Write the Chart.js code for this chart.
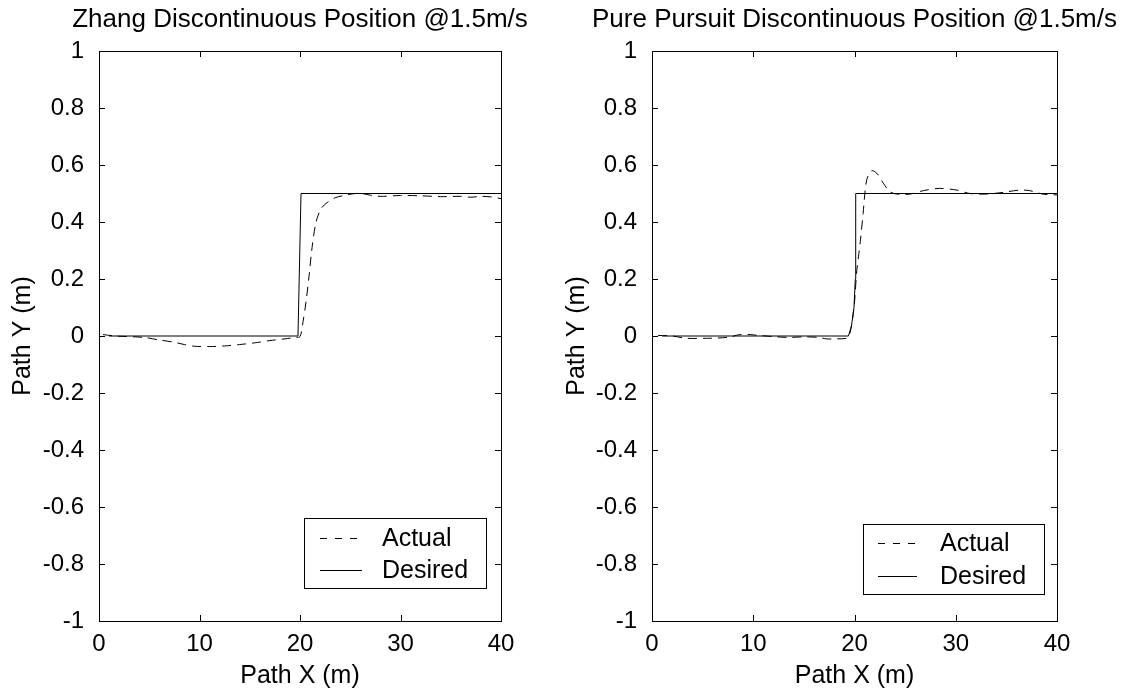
<!DOCTYPE html>
<html>
<head>
<meta charset="utf-8">
<script src="https://cdn.jsdelivr.net/npm/chart.js@4.4.1/dist/chart.umd.min.js"></script>
<style>
    body { margin: 0; background: #fff; }
    #wrap { position: relative; width: 1123px; height: 691px; }
    canvas { position: absolute; top: 0; }
</style>
</head>
<body>
<div id="wrap">
    <canvas id="zhang_chart" width="561" height="691" style="left:0px"></canvas>
    <canvas id="pursuit_chart" width="562" height="691" style="left:561px"></canvas>
</div>
<script>
// Axes ticks (shared by both plots)
const xTicks = [0, 10, 20, 30, 40];
const yTicks = [-1, -0.8, -0.6, -0.4, -0.2, 0, 0.2, 0.4, 0.6, 0.8, 1];
const seriesNames = ['Actual', 'Desired'];

// Zhang controller
const zhangActualX = [0.4, 1.6, 4.5, 6, 7.5, 8.5, 9.5, 11, 12.5, 14, 15.5, 17, 18.5, 19.5, 20, 20.3, 20.6, 20.9, 21.2, 21.6, 22.1, 22.7, 23.5, 24.5, 25.5, 26.3, 27, 28, 30, 32, 34, 36, 37, 38, 39, 40];
const zhangActualY = [0.005, 0, -0.005, -0.014, -0.022, -0.03, -0.036, -0.037, -0.035, -0.03, -0.024, -0.016, -0.01, -0.005, -0.002, 0.05, 0.12, 0.21, 0.31, 0.4, 0.447, 0.468, 0.485, 0.494, 0.5, 0.499, 0.494, 0.49, 0.493, 0.492, 0.489, 0.49, 0.487, 0.49, 0.488, 0.482];
const zhangDesiredX = [1, 19.8, 20.1, 40];
const zhangDesiredY = [0, 0, 0.5, 0.5];

// Pure pursuit controller
const pursuitActualX = [0.6, 2, 3.4, 5.4, 6.5, 7.6, 8.7, 9.7, 10.5, 12, 13.5, 15, 16.5, 17.2, 18.3, 19.2, 19.45, 19.7, 19.95, 20.05, 20.2, 20.4, 20.6, 20.85, 21.2, 21.7, 22.2, 22.85, 23.5, 24.2, 25.5, 26.8, 28.4, 30.1, 31.4, 33, 34.7, 36.3, 37.3, 38.6, 40];
const pursuitActualY = [0.002, 0, -0.008, -0.008, -0.007, -0.004, 0.005, 0.005, 0.002, -0.002, -0.005, -0.003, -0.005, -0.01, -0.01, -0.008, 0, 0.035, 0.1, 0.14, 0.22, 0.28, 0.34, 0.43, 0.547, 0.58, 0.571, 0.536, 0.506, 0.498, 0.498, 0.51, 0.518, 0.512, 0.5, 0.498, 0.504, 0.512, 0.51, 0.498, 0.495];
const pursuitDesiredX = [1, 19.4, 19.7, 19.95, 20.08, 20.12, 40];
const pursuitDesiredY = [0, 0, 0.035, 0.1, 0.2, 0.5, 0.5];

const FONT = "'Liberation Sans', Arial, sans-serif";
Chart.defaults.font.family = FONT;
Chart.defaults.font.size = 24;
Chart.defaults.color = '#000';

// MATLAB-like frame: box, inward ticks on all sides, title and legend
const matlabAxes = {
    id: 'matlabAxes',
    afterDraw(chart, args, opts) {
        const ctx = chart.ctx;
        const a = chart.chartArea;
        const sx = chart.scales.x, sy = chart.scales.y;
        ctx.save();
        ctx.strokeStyle = '#000';
        ctx.lineWidth = 1;
        ctx.setLineDash([]);
        ctx.strokeRect(a.left + 0.5, a.top + 0.5, a.right - a.left, a.bottom - a.top);
        ctx.beginPath();
        sx.ticks.forEach(t => {
            const px = Math.round(sx.getPixelForValue(t.value)) + 0.5;
            ctx.moveTo(px, a.bottom); ctx.lineTo(px, a.bottom - opts.tick);
            ctx.moveTo(px, a.top); ctx.lineTo(px, a.top + opts.tick);
        });
        sy.ticks.forEach(t => {
            const py = Math.round(sy.getPixelForValue(t.value)) + 0.5;
            ctx.moveTo(a.left, py); ctx.lineTo(a.left + opts.tick, py);
            ctx.moveTo(a.right, py); ctx.lineTo(a.right - opts.tick, py);
        });
        ctx.stroke();

        // title
        ctx.fillStyle = '#000';
        ctx.font = '26px ' + FONT;
        ctx.textAlign = 'center';
        ctx.textBaseline = 'middle';
        ctx.fillText(opts.title, (a.left + a.right) / 2, opts.titleY);

        // legend
        const lg = opts.legend;
        const bx = a.right - lg.right - lg.width;
        const by = a.bottom - lg.bottom - lg.height;
        ctx.fillStyle = '#fff';
        ctx.fillRect(bx, by, lg.width, lg.height);
        ctx.strokeRect(Math.round(bx) + 0.5, Math.round(by) + 0.5, lg.width, lg.height);
        ctx.font = '25px ' + FONT;
        ctx.textAlign = 'left';
        chart.data.datasets.forEach((ds, i) => {
            const y = Math.round(by + lg.rows[i]) + 0.5;
            ctx.beginPath();
            ctx.setLineDash(i === 0 ? [7, 8] : []);
            ctx.moveTo(bx + lg.lineStart, y);
            ctx.lineTo(bx + lg.lineEnd, y);
            ctx.stroke();
            ctx.fillStyle = '#000';
            ctx.fillText(ds.label, bx + lg.textX, y + 1);
        });
        ctx.restore();
    }
};

function createChart(namechart, actualX, actualY, desiredX, desiredY, frame) {
    new Chart(namechart, {
        type: 'line',
        data: {
            datasets: [
                {
                    label: seriesNames[0],
                    data: actualX.map((x, i) => ({ x: x, y: actualY[i] })),
                    borderColor: '#000',
                    borderWidth: 1,
                    borderDash: [9, 6],
                    pointRadius: 0,
                    tension: 0.3
                },
                {
                    label: seriesNames[1],
                    data: desiredX.map((x, i) => ({ x: x, y: desiredY[i] })),
                    borderColor: '#000',
                    borderWidth: 1,
                    pointRadius: 0,
                    tension: 0
                }
            ]
        },
        options: {
            responsive: false,
            animation: false,
            devicePixelRatio: 1,
            layout: { padding: { left: 0, right: frame.padRight, top: 51, bottom: 0 } },
            plugins: {
                legend: { display: false },
                tooltip: { enabled: false },
                matlabAxes: frame
            },
            scales: {
                x: {
                    type: 'linear',
                    min: 0,
                    max: 40,
                    afterBuildTicks: s => { s.ticks = xTicks.map(v => ({ value: v })); },
                    afterFit: s => { s.height = 70; },
                    ticks: { padding: 1, maxRotation: 0, autoSkip: false, callback: v => String(v) },
                    grid: { display: false },
                    border: { display: false },
                    title: { display: true, text: 'Path X (m)', font: { size: 25 }, padding: { top: 0, bottom: 0 } }
                },
                y: {
                    type: 'linear',
                    min: -1,
                    max: 1,
                    afterBuildTicks: s => { s.ticks = yTicks.map(v => ({ value: v })); },
                    afterFit: s => { s.width = frame.axisLeft; },
                    ticks: { padding: 7, autoSkip: false, callback: v => String(v) },
                    grid: { display: false },
                    border: { display: false },
                    title: { display: true, text: 'Path Y (m)', font: { size: 25 }, padding: { top: frame.yTitlePad, bottom: 0 } }
                }
            }
        },
        plugins: [matlabAxes]
    });
}

createChart(document.getElementById('zhang_chart'),
    zhangActualX, zhangActualY, zhangDesiredX, zhangDesiredY, {
        title: 'Zhang Discontinuous Position @1.5m/s',
        titleY: 20, tick: 6, axisLeft: 99, padRight: 60, yTitlePad: 8,
        legend: { width: 182, height: 70, right: 15, bottom: 33, rows: [20, 52], lineStart: 16, lineEnd: 58, textX: 78 }
    });

createChart(document.getElementById('pursuit_chart'),
    pursuitActualX, pursuitActualY, pursuitDesiredX, pursuitDesiredY, {
        title: 'Pure Pursuit Discontinuous Position @1.5m/s',
        titleY: 20, tick: 6, axisLeft: 91, padRight: 66, yTitlePad: 1,
        legend: { width: 181, height: 70, right: 13, bottom: 27, rows: [19, 52], lineStart: 15, lineEnd: 54, textX: 77 }
    });
</script>
</body>
</html>
